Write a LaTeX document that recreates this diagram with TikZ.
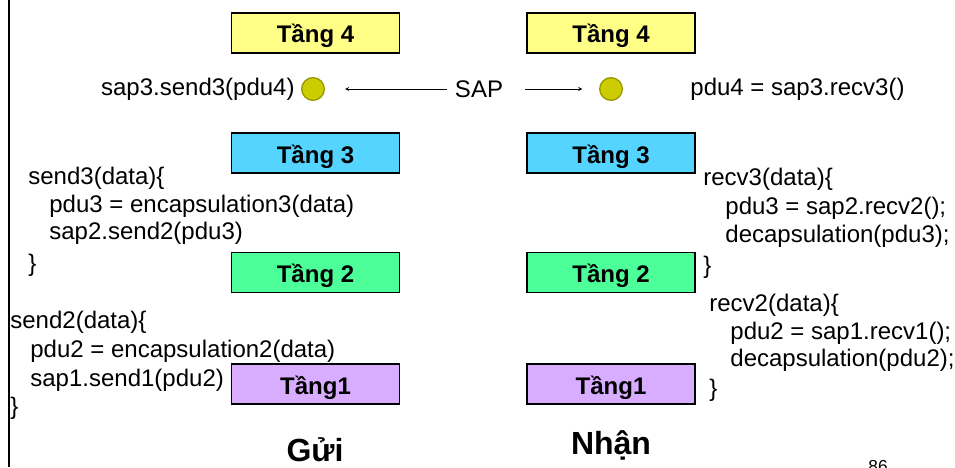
\documentclass[tikz,border=0pt]{standalone}
\usepackage{fontspec}
\setmainfont{Liberation Sans}
\definecolor{c4}{HTML}{FFFF88}
\definecolor{c3}{HTML}{55D4FF}
\definecolor{c2}{HTML}{4CFF99}
\definecolor{c1}{HTML}{D8ADFF}
\definecolor{dotfill}{HTML}{CCCC00}
\definecolor{dotline}{HTML}{999900}
\tikzset{
  tang/.style={draw,line width=1.3pt,fill=#1,minimum width=126pt,minimum height=30pt,
    inner sep=0pt,text height=17pt,text depth=2pt,font=\fontsize{18}{22}\selectfont\bfseries},
  code/.style={inner sep=0pt,anchor=west,font=\fontsize{18}{22}\selectfont},
  sapdot/.style={circle,draw=dotline,fill=dotfill,line width=1pt,minimum size=17pt,inner sep=0pt},
  title/.style={inner sep=0pt,anchor=base,font=\fontsize{24}{28}\selectfont\bfseries}
}
\begin{document}
\begin{tikzpicture}[x=0.75pt,y=-0.75pt,>=stealth,semithick]
  \useasboundingbox (0,0) rectangle (955,467);
  \draw[line width=1.5pt] (8.5,0) -- (8.5,467);
  % cac tang hai ben
  \foreach \n/\y/\t in {4/33/{Tầng 4},3/153/{Tầng 3},2/272.5/{Tầng 2},1/384/{Tầng1}}{
    \node[tang=c\n] (s\n) at (315.5,\y) {\t};
    \node[tang=c\n] (r\n) at (611,\y) {\t};
  }
  % SAP
  \node[code,anchor=center] (sap) at (479,89) {SAP};
  \node[sapdot] (dotL) at (313,89) {};
  \node[sapdot] (dotR) at (611,89) {};
  \node[code,anchor=east] (sendcall) at (295,89) {sap3.send3(pdu4)};
  \node[code] (recvcall) at (690,89) {pdu4 = sap3.recv3()};
  \draw[->,thin,shorten <=6pt,shorten >=15pt] (sap) -- (dotL);
  \draw[->,thin,shorten <=16.5pt,shorten >=12.5pt] (sap) -- (dotR);
  % ma gui
  \foreach \i/\x/\y/\t in {1/28/178/{send3(data)\{},2/49/206/{pdu3 = encapsulation3(data)},
      3/49/233/{sap2.send2(pdu3)},4/28/265/{\}},5/10/322/{send2(data)\{},
      6/30/351/{pdu2 = encapsulation2(data)},7/30/380/{sap1.send1(pdu2)},8/10/408/{\}}}
    \node[code] (gl\i) at (\x,\y) {\t};
  % ma nhan
  \foreach \i/\x/\y/\t in {1/703/179/{recv3(data)\{},2/725/208/{pdu3 = sap2.recv2();},
      3/725/236/{decapsulation(pdu3);},4/703/267/{\}},5/709/305/{recv2(data)\{},
      6/730/333/{pdu2 = sap1.recv1();},7/730/360/{decapsulation(pdu2);},8/709/390/{\}}}
    \node[code] (nl\i) at (\x,\y) {\t};
  \node[title] (gui) at (315,461) {Gửi};
  \node[title] (nhan) at (611,454) {Nhận};
  \node[inner sep=0pt,anchor=base,font=\fontsize{13}{15}\selectfont] (page) at (878,472) {86};
\end{tikzpicture}
\end{document}
